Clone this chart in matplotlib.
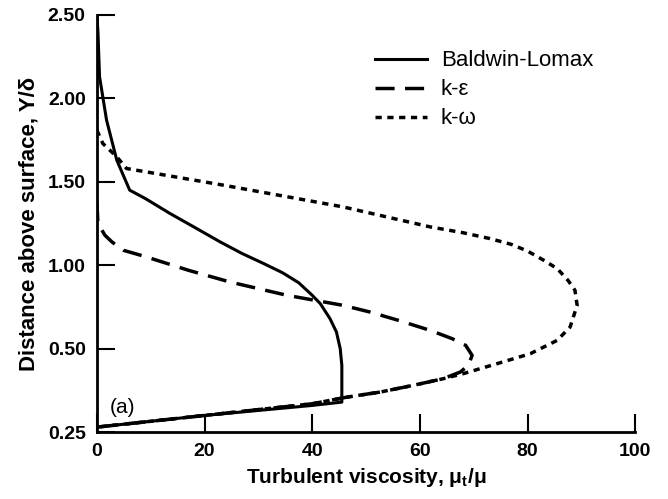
import matplotlib.pyplot as plt
import numpy as np

### DATA ###
### y is the position on the drawn axis, bottom of the axis = 0 (labelled 0.25 in the original) ###
bl_x = [0, 0.2, 0.5, 1.8, 3.7, 6.1, 9.0, 13.6, 18.0, 22.9, 27.0, 31.0, 34.5, 37.5, 40.0, 41.5, 43.3, 44.5, 45.2, 45.5, 45.5, 40, 20, 0]
bl_y = [2.5, 2.4, 2.13, 1.87, 1.63, 1.45, 1.40, 1.31, 1.23, 1.14, 1.07, 1.01, 0.955, 0.895, 0.82, 0.77, 0.68, 0.60, 0.50, 0.40, 0.18, 0.16, 0.10, 0.03]

ke_x = [0, 0.2, 1.5, 2.8, 4.9, 9.2, 17, 24.7, 35.3, 45.7, 50.7, 56, 61.9, 66, 68.5, 69.7, 69.0, 67.5, 64.3, 58.7, 52.6, 46.5, 40, 20, 0]
ke_y = [1.38, 1.25, 1.18, 1.14, 1.09, 1.05, 0.97, 0.90, 0.82, 0.76, 0.72, 0.67, 0.61, 0.56, 0.52, 0.46, 0.40, 0.36, 0.32, 0.28, 0.24, 0.21, 0.17, 0.10, 0.03]

kw_x = [0, 1.1, 3.7, 5.5, 23.5, 45.7, 61.9, 68, 73, 77, 80, 83, 85.5, 87.5, 88.8, 89.2, 87.9, 85.5, 80.5, 74.3, 68, 64.3, 58.7, 52.6, 46.5, 40, 20, 0]
kw_y = [1.81, 1.73, 1.65, 1.58, 1.48, 1.35, 1.23, 1.195, 1.16, 1.125, 1.085, 1.03, 0.98, 0.91, 0.85, 0.76, 0.63, 0.55, 0.47, 0.41, 0.35, 0.32, 0.28, 0.24, 0.21, 0.17, 0.10, 0.03]

x_ticks = [0, 20, 40, 60, 80, 100]
y_ticks = [0, 0.5, 1.0, 1.5, 2.0, 2.5]
y_tick_labels = ['0.25', '0.50', '1.00', '1.50', '2.00', '2.50']

### FONTS ###
plt.rcParams['font.family'] = ['Liberation Sans', 'DejaVu Sans']
plt.rcParams['mathtext.fontset'] = 'custom'
plt.rcParams['mathtext.rm'] = 'Liberation Sans'
plt.rcParams['mathtext.bf'] = 'Liberation Sans:bold'

### PLOT ###
fig = plt.figure(figsize=(6.68, 4.99), dpi=100)
ax = fig.add_axes([0.145, 0.134, 0.806, 0.836])

ax.plot(bl_x, bl_y, color='black', lw=2.2, ls='-', label='Baldwin-Lomax')
ax.plot(ke_x, ke_y, color='black', lw=2.5, ls=(0, (5.5, 3.0)), label='k-ε')
ax.plot(kw_x, kw_y, color='black', lw=2.5, ls=(0, (1.8, 1.6)), label='k-ω')

ax.set_xlim(0, 100)
ax.set_ylim(0, 2.5)
ax.set_xticks(x_ticks)
ax.set_yticks(y_ticks)
ax.set_yticklabels(y_tick_labels)

for lab in ax.get_xticklabels() + ax.get_yticklabels():
    lab.set_fontweight('bold')
    lab.set_fontsize(14)

ax.tick_params(direction='in', length=13, width=1.5, pad=8)
ax.spines['top'].set_visible(False)
ax.spines['right'].set_visible(False)
ax.spines['left'].set_linewidth(2)
ax.spines['bottom'].set_linewidth(2)

ax.set_xlabel(r'Turbulent viscosity, μ$_\mathbf{t}$/μ', fontsize=15, fontweight='bold', labelpad=4)
ax.set_ylabel('Distance above surface, Y/δ', fontsize=16, fontweight='bold', labelpad=6)

ax.text(2.4, 0.145, '(a)', fontsize=15, ha='left', va='center')

ax.legend(loc='upper left', bbox_to_anchor=(0.517, 0.915), frameon=False, fontsize=16,
          handlelength=2.35, handletextpad=0.6, labelspacing=0.36,
          borderpad=0, borderaxespad=0)

fig.savefig('out.png', dpi=100)
